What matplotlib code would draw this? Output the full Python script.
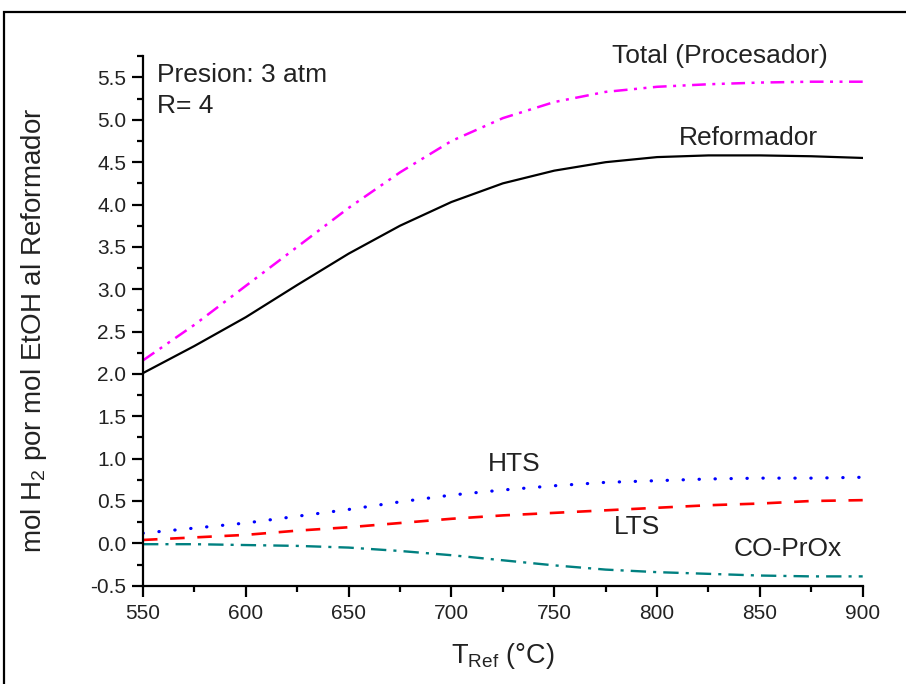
import matplotlib
matplotlib.use("Agg")
import matplotlib.pyplot as plt
from matplotlib.patches import Rectangle
from matplotlib.ticker import MultipleLocator

plt.rcParams['font.family'] = ['Liberation Sans', 'DejaVu Sans']
plt.rcParams['mathtext.fontset'] = 'custom'
plt.rcParams['mathtext.rm'] = 'Liberation Sans'

# Data
temperature = [550, 575, 600, 625, 650, 675, 700, 725, 750, 775, 800, 825, 850, 875, 900]
total_proc = [2.16, 2.58, 3.04, 3.50, 3.96, 4.38, 4.75, 5.02, 5.21, 5.33, 5.39, 5.42, 5.44, 5.45, 5.45]
reformador = [2.01, 2.33, 2.67, 3.05, 3.42, 3.75, 4.03, 4.25, 4.40, 4.50, 4.56, 4.58, 4.58, 4.57, 4.55]
hts = [0.12, 0.18, 0.24, 0.32, 0.40, 0.49, 0.57, 0.63, 0.68, 0.72, 0.74, 0.76, 0.77, 0.77, 0.78]
lts = [0.04, 0.07, 0.10, 0.15, 0.19, 0.24, 0.29, 0.33, 0.36, 0.39, 0.42, 0.45, 0.47, 0.50, 0.51]
coprox = [-0.01, -0.01, -0.02, -0.03, -0.05, -0.09, -0.14, -0.20, -0.26, -0.31, -0.34, -0.36, -0.38, -0.39, -0.39]

W, H = 906, 684
fig = plt.figure(figsize=(W / 100, H / 100), dpi=100)
ax = fig.add_axes([143 / W, 1 - 585.7 / H, (862.7 - 143) / W, (585.7 - 56.3) / H])

ax.plot(temperature, total_proc, color='#FF00FF', lw=1.8,
        linestyle=(0, (5.5, 2.6, 1.2, 2.6, 1.2, 2.6)))
ax.plot(temperature, reformador, color='black', lw=1.6, linestyle='-')
ax.plot(temperature, hts, color='#0000FF', lw=2.3, linestyle=(0, (0.1, 4.9)),
        dash_capstyle='round')
ax.plot(temperature, lts, color='#FF0000', lw=1.9, linestyle=(0, (5.5, 4.8)))
ax.plot(temperature, coprox, color='#008080', lw=1.7,
        linestyle=(0, (6.5, 3.0, 1.3, 3.0)))

ax.set_xlim(550, 900)
ax.set_ylim(-0.5, 5.75)
ax.xaxis.set_major_locator(MultipleLocator(50))
ax.xaxis.set_minor_locator(MultipleLocator(25))
ax.yaxis.set_major_locator(MultipleLocator(0.5))
ax.yaxis.set_minor_locator(MultipleLocator(0.25))
ax.yaxis.set_major_formatter(matplotlib.ticker.FormatStrFormatter('%.1f'))

for s in ['top', 'right']:
    ax.spines[s].set_visible(False)
for s in ['left', 'bottom']:
    ax.spines[s].set_linewidth(1.6)

ax.tick_params(which='major', direction='out', length=8, width=1.6,
               labelsize=15, colors='black', labelcolor='#222222')
ax.tick_params(which='minor', direction='out', length=4.5, width=1.6)
ax.tick_params(axis='x', which='major', pad=5)
ax.tick_params(axis='y', which='major', pad=4)

ax.set_xlabel('T$_{\\mathregular{Ref}}$ (°C)', fontsize=19.5, color='#222222', va='top')
ax.xaxis.set_label_coords(0.5, -0.105)
ax.set_ylabel('mol H$_{\\mathregular{2}}$ por mol EtOH al Reformador', fontsize=20,
              color='#222222')
ax.yaxis.set_label_coords(-0.131, 0.483)

tc = '#222222'
fs = 19
ax.text(556.8, 5.45, 'Presion: 3 atm', fontsize=fs, color=tc, va='baseline')
ax.text(556.8, 5.08, 'R= 4', fontsize=fs, color=tc, va='baseline')
ax.text(777.9, 5.67, 'Total (Procesador)', fontsize=fs, color=tc, va='baseline',
        clip_on=False)
ax.text(810.4, 4.70, 'Reformador', fontsize=fs, color=tc, va='baseline')
ax.text(717.5, 0.854, 'HTS', fontsize=fs, color=tc, va='baseline')
ax.text(778.8, 0.106, 'LTS', fontsize=fs, color=tc, va='baseline')
ax.text(837.2, -0.15, 'CO-PrOx', fontsize=fs, color=tc, va='baseline')

# outer frame
fig.patches.append(Rectangle((3.5 / W, -0.05), 1.2, 1 - 11.5 / H + 0.05,
                             transform=fig.transFigure, fill=False,
                             edgecolor='black', lw=1.6))

fig.savefig('out.png', dpi=100)
